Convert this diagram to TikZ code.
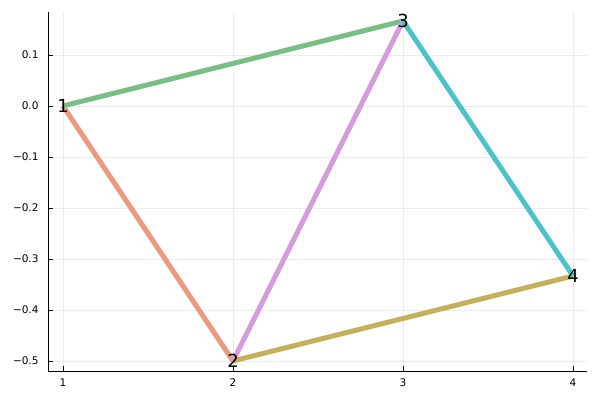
\documentclass[tikz,border=0pt]{standalone}
\usepackage{fontspec}
\setmainfont{DejaVu Sans}
\usepackage{xcolor}
\usetikzlibrary{backgrounds}

\definecolor{jlorange}{HTML}{E36F47}
\definecolor{jlgreen}{HTML}{3EA44E}
\definecolor{jlpurple}{HTML}{C371D2}
\definecolor{jlolive}{HTML}{AC8E18}
\definecolor{jlcyan}{HTML}{00A9AD}

\begin{document}
\begin{tikzpicture}[
  x=170pt, y=510pt,
  vx/.style={inner sep=0pt, font=\fontsize{18}{18}\selectfont},
  ed/.style={line width=5pt, line cap=butt},
  grd/.style={line width=0.5pt, black!8},
  axl/.style={line width=0.8pt, black},
  tk/.style={font=\fontsize{10.5}{12}\selectfont}
]
\useasboundingbox (0.6294,-0.5765) rectangle (4.1588,0.2078);
%% Vertices
\node[vx] (n1) at (1,0) {1};
\node[vx] (n2) at (2,-0.5) {2};
\node[vx] (n3) at (3,0.16667) {3};
\node[vx] (n4) at (4,-0.33333) {4};
\begin{scope}[on background layer]
%% Grid
\foreach \x in {1,2,3,4}
  \draw[grd] (\x,-0.5196) -- (\x,0.1843);
\foreach \y in {-0.5,-0.4,-0.3,-0.2,-0.1,0,0.1}
  \draw[grd] (0.912,\y) -- (4.082,\y);
%% Edges
\draw[ed, jlorange!70!white] (n1.center) -- (n2.center);
\draw[ed, jlgreen!70!white] (n1.center) -- (n3.center);
\draw[ed, jlpurple!70!white] (n2.center) -- (n3.center);
\draw[ed, jlolive!70!white] (n2.center) -- (n4.center);
\draw[ed, jlcyan!70!white] (n3.center) -- (n4.center);
\end{scope}
%% Axes
\draw[axl] (0.912,0.1843) -- (0.912,-0.5196) -- (4.082,-0.5196);
\foreach \x in {1,2,3,4} {
  \draw[axl, line width=0.5pt] (\x,-0.5196) -- ++(0,5pt);
  \node[tk, anchor=north] at ([yshift=-4pt]\x,-0.5196) {\x};
}
\foreach \y/\t in {0.1/0.1, 0/0.0, -0.1/−0.1, -0.2/−0.2, -0.3/−0.3, -0.4/−0.4, -0.5/−0.5} {
  \draw[axl, line width=0.5pt] (0.912,\y) -- ++(5pt,0);
  \node[tk, anchor=east] at ([xshift=-6pt]0.912,\y) {\t};
}
\end{tikzpicture}
\end{document}
